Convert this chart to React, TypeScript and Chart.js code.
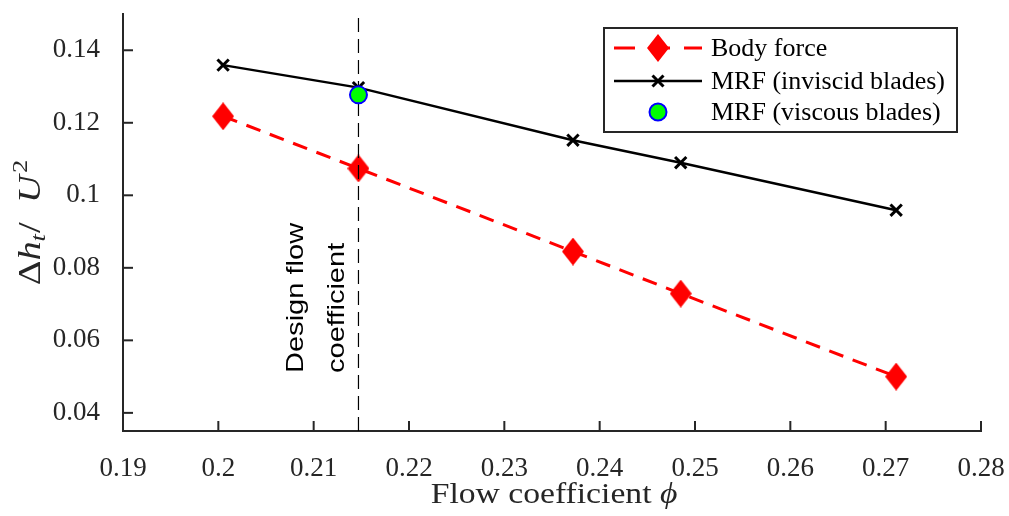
import React, { useEffect, useRef } from 'react';
import { Chart, registerables } from 'chart.js';

Chart.register(...registerables);

// ---- Data ----
const flowCoefficient = [0.2005, 0.2147, 0.2372, 0.2485, 0.2711];
const bodyForce = [0.1218, 0.1074, 0.0845, 0.0729, 0.05];
const mrfInviscid = [0.1359, 0.1297, 0.1152, 0.109, 0.0959];
const mrfViscousX = [0.2147];
const mrfViscousY = [0.1277];
const designFlowCoefficient = 0.2147;
const xTicks = [0.19, 0.2, 0.21, 0.22, 0.23, 0.24, 0.25, 0.26, 0.27, 0.28];
const xTickLabels = ['0.19', '0.2', '0.21', '0.22', '0.23', '0.24', '0.25', '0.26', '0.27', '0.28'];
const yTicks = [0.04, 0.06, 0.08, 0.1, 0.12, 0.14];
const yTickLabels = ['0.04', '0.06', '0.08', '0.1', '0.12', '0.14'];
const legendLabels = ['Body force', 'MRF (inviscid blades)', 'MRF (viscous blades)'];
const designLabel = ['Design flow', 'coefficient'];

const AXIS_COLOR = '#262626';
const SERIF = '"Liberation Serif", "Times New Roman", serif';
const SANS = '"Liberation Sans", Arial, sans-serif';

function makeDiamond(w: number, h: number): HTMLCanvasElement {
  const c = document.createElement('canvas');
  c.width = w;
  c.height = h;
  const g = c.getContext('2d')!;
  g.fillStyle = '#ff0000';
  g.beginPath();
  g.moveTo(w / 2, 0);
  g.lineTo(w, h / 2);
  g.lineTo(w / 2, h);
  g.lineTo(0, h / 2);
  g.closePath();
  g.fill();
  return c;
}

function labelFor(values: number[], labels: string[], v: number) {
  const i = values.findIndex((t) => Math.abs(t - v) < 1e-9);
  return i >= 0 ? labels[i] : '';
}

function zeroPadding(scale: any) {
  scale.paddingTop = 0;
  scale.paddingBottom = 0;
  scale.paddingLeft = 0;
  scale.paddingRight = 0;
}

export default function App() {
  const canvasRef = useRef<HTMLCanvasElement | null>(null);

  useEffect(() => {
    document.body.style.margin = '0';
    const canvas = canvasRef.current;
    if (!canvas) return;
    const diamond = makeDiamond(22, 28);

    const inwardTicks = {
      id: 'inwardTicks',
      afterDraw(chart: any) {
        const { ctx, chartArea, scales } = chart;
        const x = scales.x;
        const y = scales.y;
        ctx.save();
        ctx.strokeStyle = AXIS_COLOR;
        ctx.lineWidth = 2;
        xTicks.forEach((v) => {
          const px = x.getPixelForValue(v);
          ctx.beginPath();
          ctx.moveTo(px, chartArea.bottom);
          ctx.lineTo(px, chartArea.bottom - 10);
          ctx.stroke();
        });
        yTicks.forEach((v) => {
          const py = y.getPixelForValue(v);
          ctx.beginPath();
          ctx.moveTo(chartArea.left, py);
          ctx.lineTo(chartArea.left + 10, py);
          ctx.stroke();
        });
        ctx.restore();
      },
    };

    const textPlugin = {
      id: 'texts',
      afterDraw(chart: any) {
        const { ctx, chartArea, scales } = chart;
        const x = scales.x;
        // X title
        ctx.save();
        ctx.fillStyle = AXIS_COLOR;
        ctx.textBaseline = 'alphabetic';
        const cx = (chartArea.left + chartArea.right) / 2 + 2;
        ctx.translate(cx, 503);
        ctx.scale(1.16, 1);
        ctx.font = `29px ${SERIF}`;
        const part1 = 'Flow coefficient ';
        const w1 = ctx.measureText(part1).width;
        ctx.font = `italic 29px ${SERIF}`;
        const w2 = ctx.measureText('\u03d5').width;
        const start = -(w1 + w2) / 2;
        ctx.font = `29px ${SERIF}`;
        ctx.textAlign = 'left';
        ctx.fillText(part1, start, 0);
        ctx.font = `italic 29px ${SERIF}`;
        ctx.fillText('\u03d5', start + w1, 0);
        ctx.restore();

        // Y title (rotated)
        ctx.save();
        ctx.fillStyle = AXIS_COLOR;
        ctx.textBaseline = 'alphabetic';
        ctx.textAlign = 'left';
        ctx.translate(40, (chartArea.top + chartArea.bottom) / 2);
        ctx.rotate(-Math.PI / 2);
        ctx.scale(1.2, 1);
        const F = 32;
        const f = 22;
        const pieces: { t: string; font: string; dy: number; gap?: number }[] = [
          { t: '\u0394', font: `${F}px ${SERIF}`, dy: 0 },
          { t: 'h', font: `italic ${F}px ${SERIF}`, dy: 0 },
          { t: 't', font: `italic ${f}px ${SERIF}`, dy: 5 },
          { t: '/', font: `${F}px ${SERIF}`, dy: 0, gap: 1 },
          { t: '  ', font: `${F}px ${SERIF}`, dy: 0 },
          { t: 'U', font: `italic ${F}px ${SERIF}`, dy: 0 },
          { t: '2', font: `${f}px ${SERIF}`, dy: -13, gap: 2 },
        ];
        let total = 0;
        const widths = pieces.map((p) => {
          ctx.font = p.font;
          const w = ctx.measureText(p.t).width + (p.gap || 0);
          total += w;
          return w;
        });
        let pos = -total / 2;
        pieces.forEach((p, i) => {
          ctx.font = p.font;
          ctx.fillText(p.t, pos + (p.gap || 0), p.dy);
          pos += widths[i];
        });
        ctx.restore();

        // Design flow coefficient annotation
        ctx.save();
        ctx.fillStyle = '#000000';
        ctx.textBaseline = 'alphabetic';
        ctx.textAlign = 'left';
        ctx.font = `24px ${SANS}`;
        const xd = x.getPixelForValue(designFlowCoefficient);
        const baselines = [xd - 55, xd - 14];
        designLabel.forEach((line, i) => {
          ctx.save();
          ctx.translate(baselines[i], 373);
          ctx.rotate(-Math.PI / 2);
          ctx.scale(1.21, 1);
          ctx.fillText(line, 0, 0);
          ctx.restore();
        });
        ctx.restore();
      },
    };

    const legendPlugin = {
      id: 'customLegend',
      afterDraw(chart: any) {
        const { ctx } = chart;
        ctx.save();
        const bx = 604, by = 28, bw = 353, bh = 104;
        ctx.fillStyle = '#ffffff';
        ctx.fillRect(bx, by, bw, bh);
        ctx.strokeStyle = AXIS_COLOR;
        ctx.lineWidth = 2;
        ctx.strokeRect(bx, by, bw, bh);
        const rows = [48, 81, 112];
        const l0 = 614, l1 = 702, mx = 658;
        // Body force
        ctx.strokeStyle = '#ff0000';
        ctx.lineWidth = 3;
        ctx.setLineDash([21, 14]);
        ctx.beginPath();
        ctx.moveTo(l0, rows[0]);
        ctx.lineTo(l1, rows[0]);
        ctx.stroke();
        ctx.setLineDash([]);
        ctx.drawImage(diamond, mx - 11, rows[0] - 14);
        // MRF inviscid
        ctx.strokeStyle = '#000000';
        ctx.lineWidth = 2.5;
        ctx.beginPath();
        ctx.moveTo(l0, rows[1]);
        ctx.lineTo(l1, rows[1]);
        ctx.stroke();
        ctx.lineWidth = 3;
        const d = 5.5;
        ctx.beginPath();
        ctx.moveTo(mx - d, rows[1] - d);
        ctx.lineTo(mx + d, rows[1] + d);
        ctx.moveTo(mx - d, rows[1] + d);
        ctx.lineTo(mx + d, rows[1] - d);
        ctx.stroke();
        // MRF viscous
        ctx.beginPath();
        ctx.arc(mx, rows[2], 8.5, 0, Math.PI * 2);
        ctx.fillStyle = '#00ff00';
        ctx.fill();
        ctx.strokeStyle = '#0000ff';
        ctx.lineWidth = 2;
        ctx.stroke();
        // texts
        ctx.fillStyle = '#000000';
        ctx.font = `26px ${SERIF}`;
        ctx.textBaseline = 'middle';
        ctx.textAlign = 'left';
        legendLabels.forEach((t, i) => ctx.fillText(t, 711, rows[i] + 1));
        ctx.restore();
      },
    };

    const chart = new Chart(canvas, {
      type: 'line',
      data: {
        datasets: [
          {
            label: legendLabels[2],
            data: mrfViscousX.map((x, i) => ({ x, y: mrfViscousY[i] })),
            showLine: false,
            pointStyle: 'circle',
            pointRadius: 8.5,
            pointBackgroundColor: '#00ff00',
            pointBorderColor: '#0000ff',
            pointBorderWidth: 2,
          },
          {
            label: 'Design',
            data: [
              { x: designFlowCoefficient, y: 0.035 },
              { x: designFlowCoefficient, y: 0.15 },
            ],
            borderColor: '#000000',
            borderWidth: 1.2,
            borderDash: [14, 7],
            pointRadius: 0,
            fill: false,
          },
          {
            label: legendLabels[1],
            data: flowCoefficient.map((x, i) => ({ x, y: mrfInviscid[i] })),
            borderColor: '#000000',
            borderWidth: 2.5,
            pointStyle: 'crossRot',
            pointRadius: 8,
            pointBorderColor: '#000000',
            pointBorderWidth: 3,
            fill: false,
          },
          {
            label: legendLabels[0],
            data: flowCoefficient.map((x, i) => ({ x, y: bodyForce[i] })),
            borderColor: '#ff0000',
            borderWidth: 3,
            borderDash: [15, 10],
            pointStyle: diamond as any,
            pointRadius: 11,
            fill: false,
          },
        ],
      },
      options: {
        responsive: false,
        animation: false,
        devicePixelRatio: 1,
        layout: { padding: { left: 0, right: 28, top: 7, bottom: 0 } },
        plugins: {
          legend: { display: false },
          tooltip: { enabled: false },
        },
        scales: {
          x: {
            type: 'linear',
            min: 0.19,
            max: 0.28,
            afterBuildTicks: (scale: any) => {
              scale.ticks = xTicks.map((v) => ({ value: v }));
            },
            afterFit: (scale: any) => {
              scale.height = 85;
              zeroPadding(scale);
            },
            grid: { display: false },
            border: { display: true, color: AXIS_COLOR, width: 2 },
            ticks: {
              color: AXIS_COLOR,
              font: { family: SERIF, size: 27 },
              padding: 14,
              maxRotation: 0,
              autoSkip: false,
              callback: (v: any) => labelFor(xTicks, xTickLabels, Number(v)),
            },
          },
          y: {
            type: 'linear',
            min: 0.035,
            max: 0.15,
            afterBuildTicks: (scale: any) => {
              scale.ticks = yTicks.map((v) => ({ value: v }));
            },
            afterFit: (scale: any) => {
              scale.width = 123;
              zeroPadding(scale);
            },
            grid: { display: false },
            border: { display: true, color: AXIS_COLOR, width: 2 },
            ticks: {
              color: AXIS_COLOR,
              font: { family: SERIF, size: 27 },
              padding: 15,
              autoSkip: false,
              callback: (v: any) => labelFor(yTicks, yTickLabels, Number(v)),
            },
          },
        },
      },
      plugins: [inwardTicks, textPlugin, legendPlugin],
    });

    return () => chart.destroy();
  }, []);

  return (
    <div style={{ width: 1009, height: 516, background: '#ffffff' }}>
      <canvas ref={canvasRef} width={1009} height={516} />
    </div>
  );
}
